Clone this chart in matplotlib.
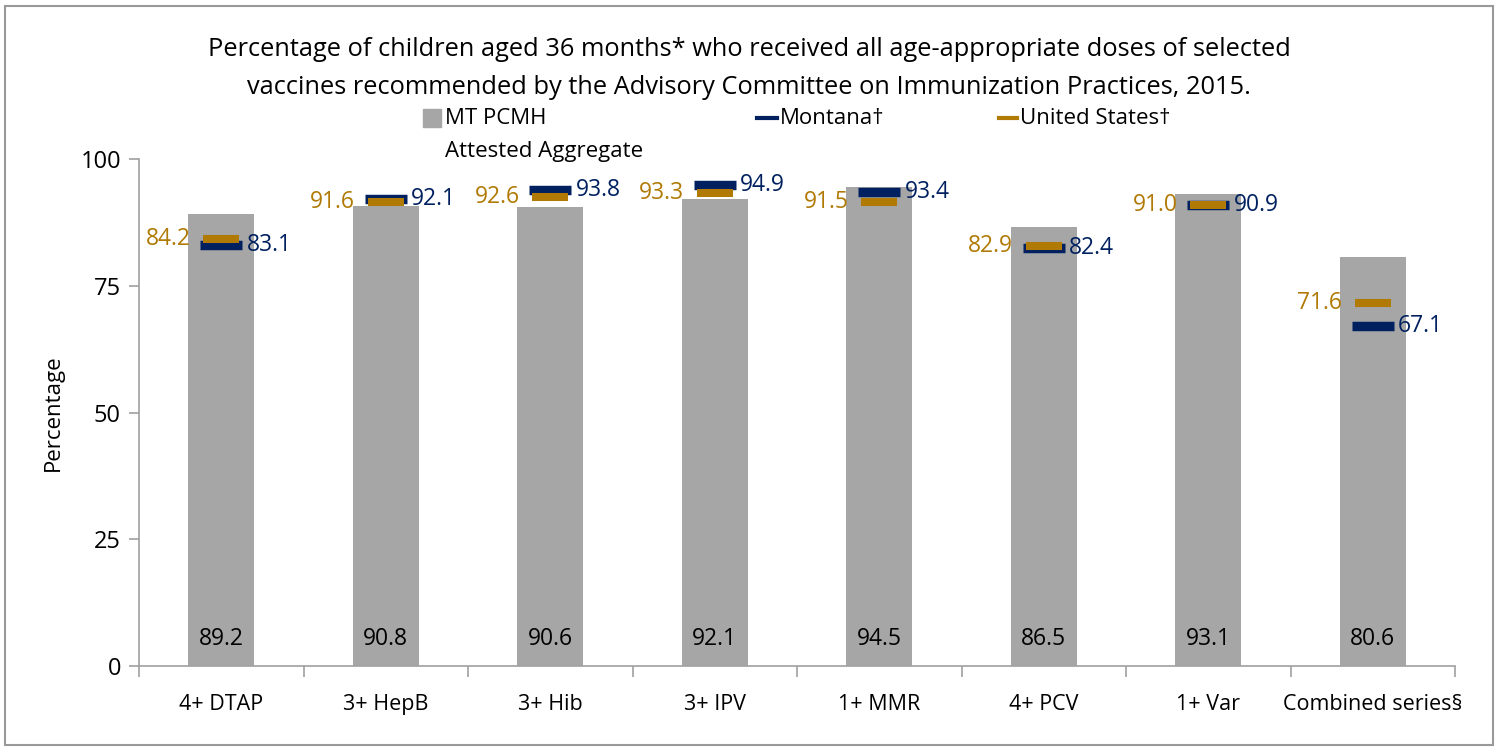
import matplotlib
matplotlib.use("Agg")
import matplotlib.pyplot as plt
from matplotlib.patches import Rectangle
from matplotlib.lines import Line2D

categories = ["4+ DTAP", "3+ HepB", "3+ Hib", "3+ IPV", "1+ MMR", "4+ PCV", "1+ Var", "Combined series§"]
mt_pcmh = [89.2, 90.8, 90.6, 92.1, 94.5, 86.5, 93.1, 80.6]
montana = [83.1, 92.1, 93.8, 94.9, 93.4, 82.4, 90.9, 67.1]
united_states = [84.2, 91.6, 92.6, 93.3, 91.5, 82.9, 91.0, 71.6]
yticks = [0, 25, 50, 75, 100]

GRAY = "#A6A6A6"
NAVY = "#002060"
GOLD = "#B07A05"
AX = "#A0A0A0"

plt.rcParams['font.family'] = ['Open Sans', 'DejaVu Sans']

W, H = 1499, 749
fig = plt.figure(figsize=(W/100, H/100), dpi=100)
ax = fig.add_axes([139/W, 1-666/H, (1455-139)/W, (666-159)/H])

x = list(range(len(categories)))
ax.bar(x, mt_pcmh, width=0.4, color=GRAY, zorder=1)
ax.plot(x, montana, linestyle='none', marker='_', ms=30, mew=6.8, color=NAVY, zorder=3)
ax.plot(x, united_states, linestyle='none', marker='_', ms=26, mew=5.8, color=GOLD, zorder=4)

for i in x:
    ax.text(i, 5.4, f"{mt_pcmh[i]:.1f}", ha='center', va='center', fontsize=16.5, color='black', zorder=5)
    ax.text(i + 0.155, montana[i], f"{montana[i]:.1f}", ha='left', va='center', fontsize=16.5, color=NAVY, zorder=5)
    ax.text(i - 0.185, united_states[i], f"{united_states[i]:.1f}", ha='right', va='center', fontsize=16.5, color=GOLD, zorder=5)

ax.set_xlim(-0.5, len(categories) - 0.5)
ax.set_ylim(0, 100)
ax.set_yticks(yticks)
ax.set_yticklabels([str(t) for t in yticks], fontsize=17)
ax.set_xticks(x)
ax.set_xticklabels(categories, fontsize=15.5)
ax.set_xticks([i - 0.5 for i in range(len(categories) + 1)], minor=True)
ax.tick_params(axis='x', which='major', length=0, pad=20)
ax.tick_params(axis='x', which='minor', length=8, color=AX, width=1.2, direction='out')
ax.tick_params(axis='y', length=7, color=AX, width=1.2, pad=6)
for s in ['top', 'right']:
    ax.spines[s].set_visible(False)
for s in ['left', 'bottom']:
    ax.spines[s].set_color(AX)
    ax.spines[s].set_linewidth(1.2)
ax.set_ylabel("Percentage", fontsize=16, labelpad=12)

# Title
fig.text(749/W, 1-50/H, "Percentage of children aged 36 months* who received all age-appropriate doses of selected",
         ha='center', va='center', fontsize=18.3)
fig.text(749/W, 1-88/H, "vaccines recommended by the Advisory Committee on Immunization Practices, 2015.",
         ha='center', va='center', fontsize=18.3)

# Legend (manual)
fig.patches.append(Rectangle((423/W, 1-127/H), 18/W, 18/H, transform=fig.transFigure, color=GRAY))
fig.text(445/W, 1-119/H, "MT PCMH", ha='left', va='center', fontsize=16)
fig.text(445/W, 1-152/H, "Attested Aggregate", ha='left', va='center', fontsize=16)
fig.lines.append(Line2D([757/W, 777/W], [1-118/H, 1-118/H], transform=fig.transFigure, color=NAVY, lw=3))
fig.text(780/W, 1-119/H, "Montana†", ha='left', va='center', fontsize=16)
fig.lines.append(Line2D([999/W, 1017/W], [1-118/H, 1-118/H], transform=fig.transFigure, color=GOLD, lw=3))
fig.text(1020/W, 1-119/H, "United States†", ha='left', va='center', fontsize=16)

# Frame
fig.patches.append(Rectangle((5/W, 4/H), (1493-5)/W, (743-4)/H, transform=fig.transFigure,
                             fill=False, edgecolor='#999999', lw=1.5))

fig.savefig("out.png", dpi=100)
